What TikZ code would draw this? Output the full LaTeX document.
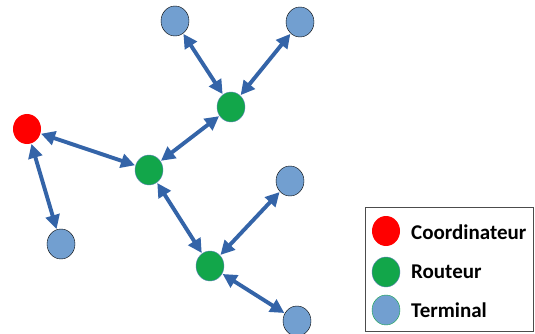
\documentclass[tikz,border=0pt]{standalone}
\usepackage{fontspec}
\setmainfont{Carlito}
\usetikzlibrary{arrows.meta,shapes.geometric}

\definecolor{lienbleu}{RGB}{52,100,168}
\definecolor{vertrouteur}{RGB}{18,166,74}
\definecolor{bleuterm}{RGB}{114,159,208}

\begin{document}
\begin{tikzpicture}[x=1pt,y=-1pt]
	\tikzset{
	%Define style for nodes
	noeud/.style={
		ellipse,
		minimum width=28pt,
		minimum height=30pt,
		inner sep=0pt},
	coord/.style={noeud, fill=red},
	routeur/.style={noeud, fill=vertrouteur, draw=lienbleu!80, thin},
	terminal/.style={noeud, fill=bleuterm, draw=black, thin},
	% Define link style
	lien/.style={
		{Triangle[length=14pt,width=14pt]}-{Triangle[length=14pt,width=14pt]},
		draw=lienbleu,
		line width=3.9pt,
		shorten <=0.5pt,
		shorten >=0.5pt},
	legende/.style={anchor=west, inner sep=0pt, font=\bfseries\fontsize{21}{24}\selectfont}
}
	\useasboundingbox (0,0) rectangle (535,334);

	%coordinateur
	\node[coord] at (27,129) (C) {};
	%routeurs
	\node[routeur] at (149,170) (R1) {};
	\node[routeur] at (231,107) (R2) {};
	\node[routeur] at (210,266) (R3) {};
	%terminaux
	\node[terminal] at (175,21) (T1) {};
	\node[terminal] at (300,22) (T2) {};
	\node[terminal] at (290,181) (T3) {};
	\node[terminal] at (61,244) (T4) {};
	\node[terminal] at (297,321) (T5) {};

	%liens
	\draw[lien] (C) -- (R1);
	\draw[lien] (C) -- (T4);
	\draw[lien] (R1) -- (R2);
	\draw[lien] (R1) -- (R3);
	\draw[lien] (R2) -- (T1);
	\draw[lien] (R2) -- (T2);
	\draw[lien] (R3) -- (T3);
	\draw[lien] (R3) -- (T5);

	%legende
	\node[draw=black!70, thick, minimum width=168pt, minimum height=124pt, anchor=north west] at (365,207) (leg) {};
	\node[coord] at (386,231) (lc) {};
	\node[routeur] at (386,272) (lr) {};
	\node[noeud, fill=bleuterm, draw=vertrouteur, thin] at (386,310) (lt) {};
	\node[legende] at (411,232) (tc) {Coordinateur};
	\node[legende] at (411,272) (tr) {Routeur};
	\node[legende] at (411,310) (tt) {Terminal};
\end{tikzpicture}
\end{document}
